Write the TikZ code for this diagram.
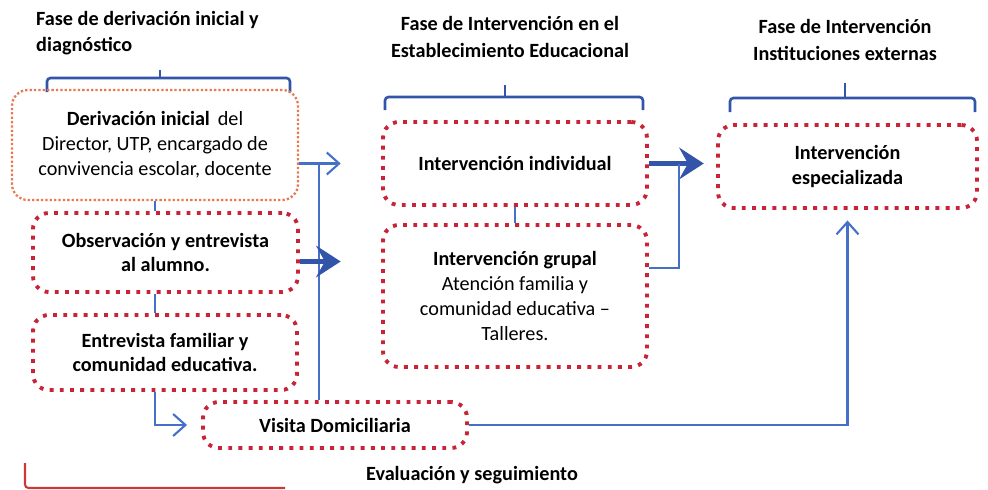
\documentclass[tikz,border=0pt]{standalone}
\usepackage{fontspec}
\setmainfont{Carlito}
\usepackage{xcolor}
\usepackage{tikz}
\usetikzlibrary{calc, arrows.meta}
\definecolor{lineblue}{RGB}{70,112,200}
\definecolor{darkblue}{RGB}{50,85,170}
\definecolor{dotred}{RGB}{200,35,55}
\definecolor{dotorange}{RGB}{232,120,80}
\definecolor{bracered}{RGB}{205,55,55}

\begin{document}
\begin{tikzpicture}[x=0.02cm,y=-0.02cm]
% styles
\tikzset{box/.style={draw=dotred, line width=2.2pt, dash pattern=on 2.2pt off 3.6pt,
    rounded corners=9pt, align=center, inner sep=2pt,
    font=\fontsize{11.5}{14.2}\selectfont}}
\tikzset{firstbox/.style={box, draw=dotorange, line width=1.3pt, dash pattern=on 1.3pt off 1.2pt}}
\tikzset{title/.style={font=\fontsize{11.5}{15.2}\selectfont\bfseries}}
\tikzset{thinline/.style={draw=lineblue, line width=1.2pt}}
\tikzset{thinarr/.style={thinline, -{Straight Barb[length=7pt,width=12.5pt]}}}
\tikzset{thickarr/.style={draw=darkblue, line width=3pt, -{Stealth[length=14pt,width=18pt,inset=5pt]}}}
\tikzset{brace/.style={draw=darkblue, line width=1.5pt, rounded corners=2pt}}
\useasboundingbox (0,0) rectangle (988,490);
% Titles
\node[title, anchor=west, align=left] (t1) at (30,33) {Fase de derivación inicial y\\diagnóstico};
\node[title, align=center] (t2) at (510,37) {Fase de Intervención en el\\Establecimiento Educacional};
\node[title, align=center] (t3) at (845,40) {Fase de Intervención\\Instituciones externas};
\node[title] (eval) at (472,475) {Evaluación y seguimiento};
% Braces
\draw[brace] (47,92) |- (290,78) -- (290,92);
\draw[brace] (160,78) -- (160,70);
\draw[brace] (385,110) |- (643,97) -- (643,110);
\draw[brace] (505,97) -- (505,85);
\draw[brace] (730,112) |- (975,98) -- (975,112);
\draw[brace] (845,98) -- (845,83);
\draw[draw=bracered, line width=1.2pt, rounded corners=2pt] (25,463) |- (285,488);
% Boxes
\node[firstbox, minimum width=5.72cm, minimum height=2.2cm] (deriv) at (155,145)
  {\textbf{Derivación inicial}\, del\\Director, UTP, encargado de\\convivencia escolar, docente};
\node[box, minimum width=5.3cm, minimum height=1.58cm] (obs) at (165.5,252.5)
  {\textbf{Observación y entrevista}\\\textbf{al alumno.}};
\node[box, minimum width=5.28cm, minimum height=1.5cm] (fam) at (165,352.5)
  {\textbf{Entrevista familiar y}\\\textbf{comunidad educativa.}};
\node[box, minimum width=5.28cm, minimum height=0.92cm] (visita) at (335,425)
  {\textbf{Visita Domiciliaria}};
\node[box, minimum width=5.28cm, minimum height=1.66cm] (indiv) at (515,163.5)
  {\textbf{Intervención individual}};
\node[box, minimum width=5.28cm, minimum height=2.84cm] (grupal) at (515,296)
  {\textbf{Intervención grupal}\\Atención familia y\\comunidad educativa --\\Talleres.};
\node[box, minimum width=5.18cm, minimum height=1.66cm] (espec) at (847.5,166.5)
  {\textbf{Intervención}\\\textbf{especializada}};
% Connectors -- first phase
\draw[thinline] (deriv.south) -- (deriv.south |- obs.north);
\draw[thinline] (deriv.south |- obs.south) -- (deriv.south |- fam.north);
\draw[thinarr, shorten >=8] (deriv.south |- fam.south) |- (visita.west);
\coordinate (split) at ($(deriv.east |- indiv.west)+(20,0)$);
\draw[thinarr, shorten >=23] (deriv.east |- indiv.west) -- (indiv.west);
\draw[thinline] (split) -- (split |- visita.north);
\draw[thickarr, shorten >=23] ($(obs.east)+(0,9)$) -- ($(obs.east -| grupal.west)+(0,9)$);
% Connectors -- second phase
\draw[thinline] (indiv.south) -- (grupal.north);
\draw[thickarr, shorten >=7] (indiv.east) -- (indiv.east -| espec.west);
\draw[thinline] ($(grupal.east)+(0,-28)$) -| ($(indiv.east)+(30,0)$);
\draw[thinarr, shorten >=6] (visita.east) -| (espec.south);
\end{tikzpicture}
\end{document}
